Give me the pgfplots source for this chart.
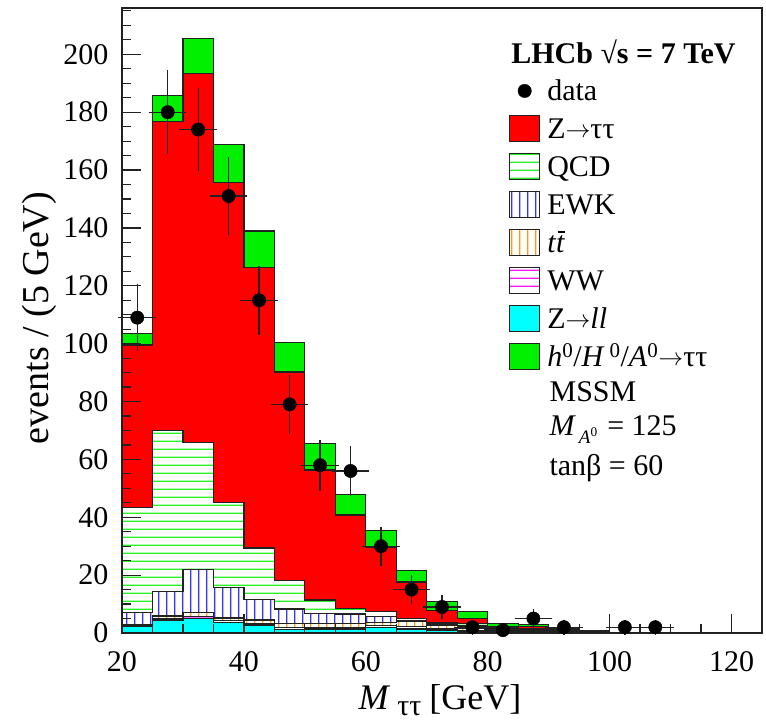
\documentclass[border=0pt]{standalone}
\usepackage{fontspec}
\setmainfont{Liberation Serif}
\usepackage{pgfplots}
\pgfplotsset{compat=1.18}
\usepackage{pgfplotstable}
\usetikzlibrary{patterns}

\definecolor{zttred}{rgb}{1,0,0}
\definecolor{higgsgreen}{rgb}{0,0.94,0}
\definecolor{zllcyan}{rgb}{0,1,1}
\definecolor{qcdgreen}{rgb}{0.15,0.95,0.15}
\definecolor{ewkblue}{rgb}{0.2,0.2,1}
\definecolor{ttorange}{rgb}{1,0.6,0.05}
\definecolor{wwmagenta}{rgb}{1,0.1,1}
\definecolor{edge}{gray}{0.13}

% hatch patterns (coloured)
\pgfdeclarepatterninherentlycolored{qcdhatch}{\pgfpointorigin}{\pgfpoint{7.7pt}{7.7pt}}{\pgfpoint{7.7pt}{7.7pt}}{%
  \pgfsetstrokecolor{qcdgreen}\pgfsetlinewidth{1.2pt}%
  \pgfpathmoveto{\pgfpoint{-0.5pt}{3.85pt}}\pgfpathlineto{\pgfpoint{8.2pt}{3.85pt}}\pgfusepath{stroke}}
\pgfdeclarepatterninherentlycolored{wwhatch}{\pgfpointorigin}{\pgfpoint{7.7pt}{7.7pt}}{\pgfpoint{7.7pt}{7.7pt}}{%
  \pgfsetstrokecolor{wwmagenta}\pgfsetlinewidth{1.2pt}%
  \pgfpathmoveto{\pgfpoint{-0.5pt}{3.85pt}}\pgfpathlineto{\pgfpoint{8.2pt}{3.85pt}}\pgfusepath{stroke}}
\pgfdeclarepatterninherentlycolored{ewkhatch}{\pgfpointorigin}{\pgfpoint{7.7pt}{7.7pt}}{\pgfpoint{7.7pt}{7.7pt}}{%
  \pgfsetstrokecolor{ewkblue}\pgfsetlinewidth{1.2pt}%
  \pgfpathmoveto{\pgfpoint{3.85pt}{-0.5pt}}\pgfpathlineto{\pgfpoint{3.85pt}{8.2pt}}\pgfusepath{stroke}}
\pgfdeclarepatterninherentlycolored{tthatch}{\pgfpointorigin}{\pgfpoint{7.7pt}{7.7pt}}{\pgfpoint{7.7pt}{7.7pt}}{%
  \pgfsetstrokecolor{ttorange}\pgfsetlinewidth{1.2pt}%
  \pgfpathmoveto{\pgfpoint{3.85pt}{-0.5pt}}\pgfpathlineto{\pgfpoint{3.85pt}{8.2pt}}\pgfusepath{stroke}}

% stacked components per 5 GeV bin (left bin edges)
\pgfplotstableread{
x zll ww tt ewk qcd ztt higgs
20 2.2 0.4 0.4 4.0 36.4 56.1 4.1
25 4.5 0.6 0.8 8.4 55.8 106.8 8.9
30 4.9 0.7 1.4 15.0 43.9 127.5 12.1
35 3.7 0.6 0.9 10.4 29.4 110.8 13.1
40 2.8 0.6 1.1 7.1 17.8 97.0 12.5
45 1.3 0.6 1.4 5.0 9.8 72.1 10.3
50 1.4 0.6 1.3 3.5 4.6 44.9 9.3
55 1.4 0.6 1.3 3.3 1.9 32.3 7.2
60 2.0 0.7 1.0 2.1 1.6 22.1 5.8
65 1.4 0.8 1.7 0.5 0.5 12.7 4.1
70 0.8 0.6 1.4 0.3 0.4 4.4 3.0
75 0.5 0.3 0.8 0.8 1.0 1.7 2.3
80 0.4 0.5 0.6 0.2 0.3 0.2 1.0
85 0.3 0.4 0.4 0.1 0.2 0.8 0.8
90 0.2 0.2 0.2 0.2 0.2 0.1 0.6
95 0.1 0.2 0.2 0.1 0.1 0.0 0.1
100 0 0 0 0 0 0 0
105 0 0 0 0 0 0 0
110 0 0 0 0 0 0 0
115 0 0 0 0 0 0 0
120 0 0 0 0 0 0 0
125 0 0 0 0 0 0 0
}\stacktable

% data points
\pgfplotstableread{
x y ex ey
22.5 109 2.5 10.44
27.5 180 2.5 13.42
32.5 174 2.5 13.19
37.5 151 2.5 12.29
42.5 115 2.5 10.72
47.5 79 2.5 8.89
52.5 58 2.5 7.62
57.5 56 2.5 7.48
62.5 30 2.5 5.48
67.5 15 2.5 3.87
72.5 9 2.5 3.00
77.5 2 2.5 1.41
82.5 1 2.5 1.00
87.5 5 2.5 2.24
92.5 2 2.5 1.41
102.5 2 2.5 1.41
107.5 2 2.5 1.41
}\datatable

\pgfplotsset{
  histo/.style={const plot, stack plots=y, draw=edge, line width=1.2pt, forget plot},
}
\newcommand{\arr}{\raisebox{1pt}{$\rightarrow$}}
\newcommand{\legbox}[1]{\draw[draw=edge, line width=1.2pt, #1] (0pt,-13pt) rectangle (30pt,13pt);}

\begin{document}
\begin{tikzpicture}
\begin{axis}[
  width=640pt, height=625pt, scale only axis,
  xmin=20, xmax=125, ymin=0, ymax=216,
  xtick={20,40,...,120}, ytick={0,20,...,200},
  minor xtick={25,30,...,125}, minor ytick={5,10,...,215},
  tick align=inside, xtick pos=bottom, ytick pos=left,
  major tick length=19pt, minor tick length=9.5pt,
  every tick/.append style={edge, line width=1.2pt},
  axis line style={edge, line width=1.5pt},
  axis on top, clip=false,
  /pgf/number format/assume math mode=true,
  tick label style={font=\fontsize{30}{36}\selectfont},
  xticklabel style={yshift=-15pt},
  yticklabel style={xshift=-10pt},
  xlabel={\textit{M}\hspace{7pt}\raisebox{-6pt}{\fontsize{30}{34}\selectfont ττ}\hspace{8pt}[GeV]},
  ylabel={events / (5 GeV)},
  xlabel style={at={([yshift=-76pt]rel axis cs:0.497,0)}, anchor=base, inner sep=0pt,
     font=\fontsize{36}{42}\selectfont},
  ylabel style={at={([xshift=-83pt]rel axis cs:0,0.504)}, anchor=center, inner sep=0pt,
     font=\fontsize{38}{42}\selectfont},
  legend style={at={(0.6048,0.8897)}, anchor=north west, draw=none, fill=none,
    inner sep=0pt, outer sep=0pt, row sep=9.9pt, column sep=7pt,
    font=\fontsize{30}{36}\selectfont,
    nodes={inner sep=0pt, text height=24pt, text depth=4pt}},
  legend cell align=left,
]
\addplot[histo, fill=zllcyan] table[x=x,y=zll]{\stacktable} \closedcycle;
\addplot[histo, pattern=wwhatch] table[x=x,y=ww]{\stacktable} \closedcycle;
\addplot[histo, pattern=tthatch] table[x=x,y=tt]{\stacktable} \closedcycle;
\addplot[histo, pattern=ewkhatch] table[x=x,y=ewk]{\stacktable} \closedcycle;
\addplot[histo, pattern=qcdhatch] table[x=x,y=qcd]{\stacktable} \closedcycle;
\addplot[histo, fill=zttred] table[x=x,y=ztt]{\stacktable} \closedcycle;
\addplot[histo, fill=higgsgreen] table[x=x,y=higgs]{\stacktable} \closedcycle;

\addplot[only marks, mark=*, mark size=6.7pt, black, forget plot,
  error bars/.cd, x dir=both, x explicit, y dir=both, y explicit,
  error bar style={line width=1.3pt, edge},
  error mark options={line width=1.3pt, mark size=3.5pt, edge}]
  table[x=x, y=y, x error=ex, y error=ey]{\datatable};

\addlegendimage{legend image code/.code={\fill[black] (15pt,0pt) circle (6.7pt);}}
\addlegendentry{data}
\addlegendimage{legend image code/.code={\legbox{fill=zttred}}}
\addlegendentry{Z\arr ττ}
\addlegendimage{legend image code/.code={\legbox{pattern=qcdhatch}}}
\addlegendentry{QCD}
\addlegendimage{legend image code/.code={\legbox{pattern=ewkhatch}}}
\addlegendentry{EWK}
\addlegendimage{legend image code/.code={\legbox{pattern=tthatch}}}
\addlegendentry{\textit{t}\textit{t}\llap{\raisebox{20pt}{\rule{7pt}{1.3pt}}\kern0.5pt}}
\addlegendimage{legend image code/.code={\legbox{pattern=wwhatch}}}
\addlegendentry{WW}
\addlegendimage{legend image code/.code={\legbox{fill=zllcyan}}}
\addlegendentry{Z\arr\textit{ll}}
\addlegendimage{legend image code/.code={\legbox{fill=higgsgreen}}}
\addlegendentry{\textit{h}\textsuperscript{0}/\textit{H}\,\textsuperscript{0}/\textit{A}\textsuperscript{0}\arr ττ}

\node[anchor=base west, font=\fontsize{30}{36}\selectfont\bfseries] at (axis cs:83.3,196.9) {LHCb √s = 7 TeV};
\node[anchor=base west, font=\fontsize{30}{36}\selectfont] at (axis cs:89.57,79.9) {MSSM};
\node[anchor=base west, font=\fontsize{30}{36}\selectfont] at (axis cs:89.57,68.4) {\textit{M}\hspace{3pt}\raisebox{-8pt}{\fontsize{19}{22}\selectfont\textit{A}\textsuperscript{0}}\hspace{2pt} = 125};
\node[anchor=base west, font=\fontsize{30}{36}\selectfont] at (axis cs:89.57,54.6) {tanβ = 60};
\end{axis}
\pgfresetboundingbox
\path (current axis.south west) ++(-122pt,-88pt) rectangle ++(766pt,721pt);
\end{tikzpicture}
\end{document}
